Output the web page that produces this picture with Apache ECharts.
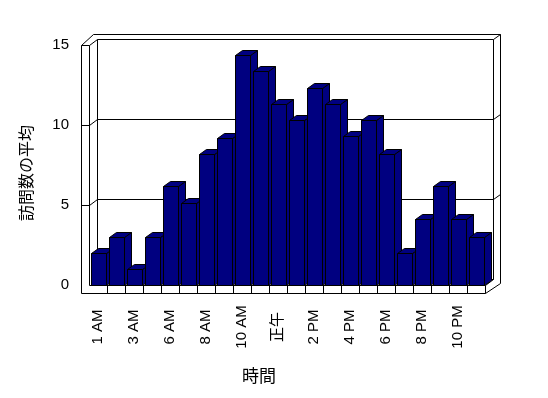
<!DOCTYPE html>
<html lang="ja">
<head>
  <meta charset="UTF-8">
  <title>訪問数の平均</title>
  <script src="https://cdn.jsdelivr.net/npm/echarts@6/dist/echarts.min.js"></script>
  <style type="text/css">
    html, body { margin: 0; padding: 0; background: #fff; }
    #main { width: 548px; height: 398px; }
  </style>
</head>
<body>
  <div id="main"></div>

  <script type="text/javascript">
    // data
    var categories = ['1 AM', '2 AM', '3 AM', '5 AM', '6 AM', '7 AM', '8 AM', '9 AM', '10 AM', '11 AM', '正午',
                      '1 PM', '2 PM', '3 PM', '4 PM', '5 PM', '6 PM', '7 PM', '8 PM', '9 PM', '10 PM', '11 PM'];
    var visits = [2, 3, 1, 3, 6.2, 5.1, 8.2, 9.2, 14.4, 13.4, 11.3, 10.3, 12.3, 11.3, 9.3, 10.3, 8.2, 2, 4.1, 6.2, 4.1, 3];
    var yTicks = [0, 5, 10, 15];

    var FONT = '"Liberation Sans", Arial, "Noto Sans CJK JP", sans-serif';
    var CJK = '"Noto Sans CJK JP", sans-serif';

    function c(v) { return Math.round(v) + 0.5; }
    function pts(arr) {
      return arr.map(function (p) { return [c(p[0]), c(p[1])]; });
    }
    function line(arr) {
      return { type: 'polyline', shape: { points: pts(arr) }, style: { stroke: '#000', lineWidth: 1, fill: null } };
    }

    // the 3d box: left wall, back wall, floor
    function renderFrame(params, api) {
      var cs = params.coordSys;
      var L = cs.x, T = cs.y, R = cs.x + cs.width, B = cs.y + cs.height;
      var dx = 8, dy = -6;
      var kids = [];
      kids.push(line([[L - 8, T], [L - 8, B + 8]]));
      kids.push(line([[L, T], [L, B]]));
      kids.push(line([[L - 8, T], [L, T]]));
      kids.push(line([[L - 8, T], [L + 4, T - 11], [R + 15, T - 11], [R + 15, B - 2]]));
      kids.push(line([[L, T], [L + dx, T + dy], [R + dx, T + dy], [R + 15, T - 11]]));
      kids.push(line([[L + dx, T + dy], [L + dx, B + dy]]));
      kids.push(line([[R + dx, T + dy], [R + dx, B + dy]]));
      // floor
      kids.push(line([[L + dx, B + dy], [R + dx, B + dy]]));
      kids.push(line([[L, B], [R, B], [R + dx, B + dy]]));
      kids.push(line([[L - 8, B + 8], [R, B + 8], [R + 15, B - 2]]));
      kids.push(line([[R, B], [R, B + 8]]));
      var bw = cs.width / categories.length;
      for (var i = 1; i < categories.length; i++) {
        kids.push(line([[L + i * bw, B], [L + i * bw, B + 8]]));
      }
      // grid lines on the back wall
      for (var k = 1; k < yTicks.length - 1; k++) {
        var y = api.coord([0, yTicks[k]])[1];
        kids.push(line([[L - 8, y], [L, y], [L + dx, y + dy], [R + dx, y + dy], [R + 15, y - 11]]));
      }
      return { type: 'group', children: kids };
    }

    function renderBar(params, api) {
      var idx = api.value(0);
      var base = api.coord([idx, 0]);
      var top = api.coord([idx, api.value(1)]);
      var bw = api.size([1, 0])[0];
      var l = base[0] - bw / 2 + 2.4;
      var r = l + bw * 0.83;
      var t = top[1], b = base[1];
      var dx = 7, dy = -5;
      var st = { fill: '#000080', stroke: '#000', lineWidth: 1 };
      return {
        type: 'group',
        children: [
          { type: 'polygon', shape: { points: pts([[r, t], [r + dx, t + dy], [r + dx, b + dy], [r, b]]) }, style: st },
          { type: 'polygon', shape: { points: pts([[l, t], [r, t], [r + dx, t + dy], [l + dx, t + dy]]) }, style: st },
          { type: 'polygon', shape: { points: pts([[l, t], [r, t], [r, b], [l, b]]) }, style: st }
        ]
      };
    }

    var myChart = echarts.init(document.getElementById('main'));

    var option = {
      backgroundColor: '#fff',
      animation: false,
      grid: { left: 89, top: 45, width: 396, height: 240 },
      xAxis: {
        type: 'category',
        data: categories,
        axisLine: { show: false },
        axisTick: { show: false },
        axisLabel: {
          interval: 1,
          rotate: 90,
          margin: 42,
          align: 'center',
          verticalAlign: 'middle',
          color: '#000',
          fontSize: 15,
          fontFamily: FONT
        }
      },
      yAxis: {
        type: 'value',
        min: yTicks[0],
        max: yTicks[yTicks.length - 1],
        interval: 5,
        axisLine: { show: false },
        axisTick: { show: false },
        splitLine: { show: false },
        axisLabel: { margin: 20, color: '#000', fontSize: 15, fontFamily: FONT }
      },
      graphic: [
        { type: 'text', x: 26, y: 173, rotation: Math.PI / 2,
          style: { text: '訪問数の平均', font: '16px ' + CJK, fill: '#000', align: 'center', verticalAlign: 'middle' } },
        { type: 'text', x: 259, y: 376,
          style: { text: '時間', font: '17px ' + CJK, fill: '#000', align: 'center', verticalAlign: 'middle' } }
      ],
      series: [
        { type: 'custom', z: 1, silent: true, renderItem: renderFrame, data: [[0, 0]] },
        {
          type: 'custom',
          z: 2,
          renderItem: renderBar,
          data: visits.map(function (v, i) { return [i, v]; })
        }
      ]
    };

    myChart.setOption(option);
  </script>
</body>
</html>
